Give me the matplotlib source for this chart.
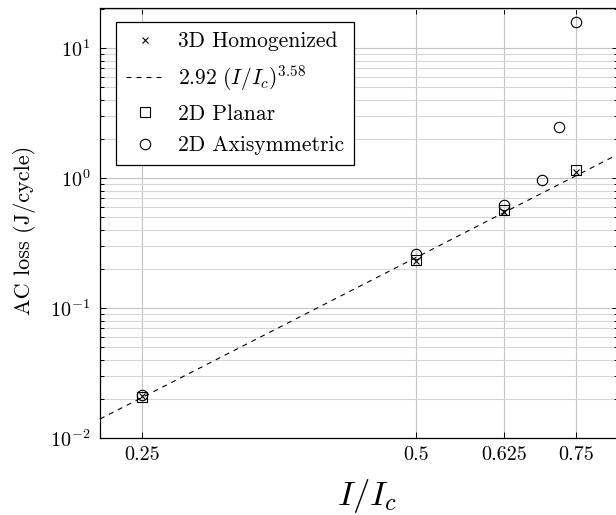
import numpy as np
import matplotlib
matplotlib.use('Agg')
import matplotlib.pyplot as plt
from matplotlib.ticker import LogLocator, NullLocator, LogFormatterSciNotation, NullFormatter

plt.rcParams['font.family'] = 'serif'
plt.rcParams['font.serif'] = ['cmr10', 'DejaVu Serif']
plt.rcParams['mathtext.fontset'] = 'cm'
plt.rcParams['axes.formatter.use_mathtext'] = True
plt.rcParams['axes.unicode_minus'] = False

# data
current_3d = [0.25, 0.5, 0.625, 0.75]
loss_3d = [0.021, 0.23, 0.55, 1.12]

current_planar = [0.25, 0.5, 0.625, 0.75]
loss_planar = [0.0205, 0.235, 0.565, 1.16]

current_axi = [0.25, 0.5, 0.625, 0.6875, 0.71875, 0.75]
loss_axi = [0.0214, 0.26, 0.62, 0.965, 2.48, 15.8]

fit_coef = 2.92
fit_exp = 3.58

xticks = [0.25, 0.5, 0.625, 0.75]
xticklabels = ['0.25', '0.5', '0.625', '0.75']

W, H = 616, 515
fig = plt.figure(figsize=(W / 100, H / 100), dpi=100)
ax = fig.add_axes([100 / W, (H - 438) / H, 518 / W, 430 / H])

ax.set_xscale('log')
ax.set_yscale('log')
xmin, xmax = 0.225, 0.8335
ax.set_xlim(xmin, xmax)
ax.set_ylim(0.01, 20.3)

xf = np.linspace(xmin, xmax, 200)
ax.plot(xf, fit_coef * xf ** fit_exp, color='black', linewidth=0.8,
        linestyle=(0, (4.5, 4.5)), zorder=2)

ax.plot(current_3d, loss_3d, linestyle='none', marker='x', color='black',
        markersize=5, markeredgewidth=0.8, label='3D Homogenized', zorder=3)
ax.plot([], [], color='black', linewidth=0.8, linestyle=(0, (4.5, 4.5)),
        label=r'$2.92\ (I/I_c)^{3.58}$')
ax.plot(current_planar, loss_planar, linestyle='none', marker='s', color='black',
        markerfacecolor='none', markersize=7.5, markeredgewidth=0.8,
        label='2D Planar', zorder=3)
ax.plot(current_axi, loss_axi, linestyle='none', marker='o', color='black',
        markerfacecolor='none', markersize=7.5, markeredgewidth=0.8,
        label='2D Axisymmetric', zorder=3)

ax.set_xticks(xticks)
ax.set_xticklabels(xticklabels)
ax.xaxis.set_minor_locator(NullLocator())
ax.yaxis.set_major_locator(LogLocator(base=10, numticks=10))
ax.yaxis.set_major_formatter(LogFormatterSciNotation())
ax.yaxis.set_minor_locator(LogLocator(base=10, subs=np.arange(2, 10), numticks=20))
ax.yaxis.set_minor_formatter(NullFormatter())

ax.grid(True, which='major', color='#c4c4c4', linewidth=0.8)
ax.grid(True, which='minor', axis='y', color='#d6d6d6', linewidth=0.8)
ax.set_axisbelow(True)

ax.tick_params(which='both', direction='in', top=True, right=True,
               labelsize=14.5, width=0.7, colors='black')
ax.tick_params(which='major', length=4.5, pad=7)
ax.tick_params(axis='x', which='major', pad=5.5)
ax.tick_params(which='minor', length=3)
for s in ax.spines.values():
    s.set_linewidth(0.9)

ax.set_xlabel(r'$I/I_c$', fontsize=25, labelpad=9.5)
ax.xaxis.label.set_x((367 - 100) / 518)
ax.set_ylabel('AC loss (J/cycle)', fontsize=16)
ax.yaxis.set_label_coords((36 - 100) / 518, (438 - 230) / 430)

leg = ax.legend(loc='upper left', bbox_to_anchor=(0.031, 0.967), fontsize=15.5,
                frameon=True, fancybox=False, edgecolor='black', framealpha=1,
                handlelength=1.8, handletextpad=0.65, labelspacing=0.55,
                borderpad=0.45, borderaxespad=0)
leg.get_frame().set_linewidth(0.9)

fig.savefig('out.png', dpi=100)
